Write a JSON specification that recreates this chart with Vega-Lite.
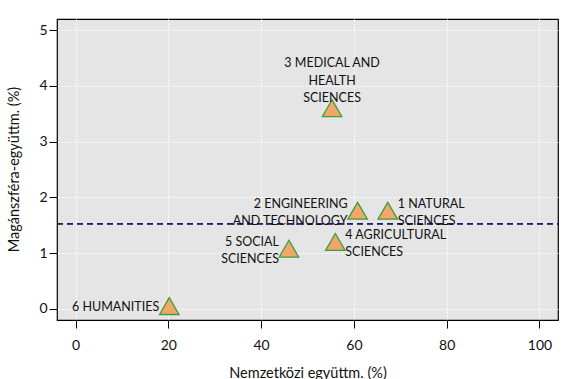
{
  "$schema": "https://vega.github.io/schema/vega-lite/v6.json",
  "width": 501,
  "height": 301,
  "padding": {"left": 57, "top": 19, "right": 21, "bottom": 59},
  "autosize": {"type": "none"},
  "background": "white",
  "config": {
    "view": {"fill": "#E5E5E5", "stroke": "black", "strokeWidth": 1.2},
    "font": "Lato",
    "axis": {
      "domain": false,
      "grid": true,
      "gridColor": "white",
      "gridDash": [2, 2],
      "gridWidth": 1,
      "gridOpacity": 1,
      "tickColor": "black",
      "tickSize": 8,
      "labelColor": "#111111",
      "labelFontSize": 14,
      "labelFont": "Lato",
      "titleFont": "Lato",
      "titleFontSize": 14.5,
      "titleFontWeight": "normal",
      "titleColor": "#111111"
    },
    "text": {"lineBreak": "\n"}
  },
  "data": {
    "values": [
      {"x": 67.3, "y": 1.76, "label": "1 NATURAL\nSCIENCES", "pos": "right"},
      {"x": 60.8, "y": 1.76, "label": "2 ENGINEERING\nAND TECHNOLOGY", "pos": "left"},
      {"x": 55.3, "y": 3.6, "label": "3 MEDICAL AND\nHEALTH\nSCIENCES", "pos": "top"},
      {"x": 56.0, "y": 1.2, "label": "4 AGRICULTURAL\nSCIENCES", "pos": "right"},
      {"x": 46.0, "y": 1.08, "label": "5 SOCIAL\nSCIENCES", "pos": "left"},
      {"x": 20.2, "y": 0.05, "label": "6 HUMANITIES", "pos": "single"}
    ]
  },
  "encoding": {
    "x": {
      "field": "x",
      "type": "quantitative",
      "scale": {"domain": [-4, 104], "nice": false, "zero": false},
      "axis": {
        "values": [0, 20, 40, 60, 80, 100],
        "title": "Nemzetközi együttm. (%)",
        "labelPadding": 10,
        "titleY": 57,
        "titleBaseline": "alphabetic"
      }
    },
    "y": {
      "field": "y",
      "type": "quantitative",
      "scale": {"domain": [-0.2, 5.2], "nice": false, "zero": false},
      "axis": {
        "values": [0, 1, 2, 3, 4, 5],
        "title": "Magánszféra-együttm. (%)",
        "labelPadding": 2,
        "titleX": -36,
        "titleY": 150,
        "titleAngle": -90,
        "titleAlign": "center",
        "titleBaseline": "bottom"
      }
    }
  },
  "layer": [
    {
      "mark": {"type": "rule", "color": "#1F1F6E", "strokeDash": [6, 4], "strokeWidth": 1.2},
      "encoding": {"y": {"datum": 1.53}, "x": {"value": 0}, "x2": {"value": 501}}
    },
    {
      "mark": {"type": "point", "shape": "triangle-up", "size": 380, "filled": true, "fill": "#F2A66A", "stroke": "#3E9E3E", "strokeWidth": 1.3, "opacity": 1}
    },
    {
      "transform": [{"filter": "datum.pos === 'right'"}],
      "mark": {"type": "text", "align": "left", "baseline": "middle", "dx": 10, "dy": -7, "fontSize": 12.5, "lineHeight": 17, "color": "#111111"},
      "encoding": {"text": {"field": "label"}}
    },
    {
      "transform": [{"filter": "datum.pos === 'left'"}],
      "mark": {"type": "text", "align": "right", "baseline": "middle", "dx": -10, "dy": -7, "fontSize": 12.5, "lineHeight": 17, "color": "#111111"},
      "encoding": {"text": {"field": "label"}}
    },
    {
      "transform": [{"filter": "datum.pos === 'single'"}],
      "mark": {"type": "text", "align": "right", "baseline": "middle", "dx": -10, "dy": 1, "fontSize": 12.5, "color": "#111111"},
      "encoding": {"text": {"field": "label"}}
    },
    {
      "transform": [{"filter": "datum.pos === 'top'"}],
      "mark": {"type": "text", "align": "center", "baseline": "middle", "dx": 0, "dy": -45, "fontSize": 12.5, "lineHeight": 17.5, "color": "#111111"},
      "encoding": {"text": {"field": "label"}}
    }
  ]
}
